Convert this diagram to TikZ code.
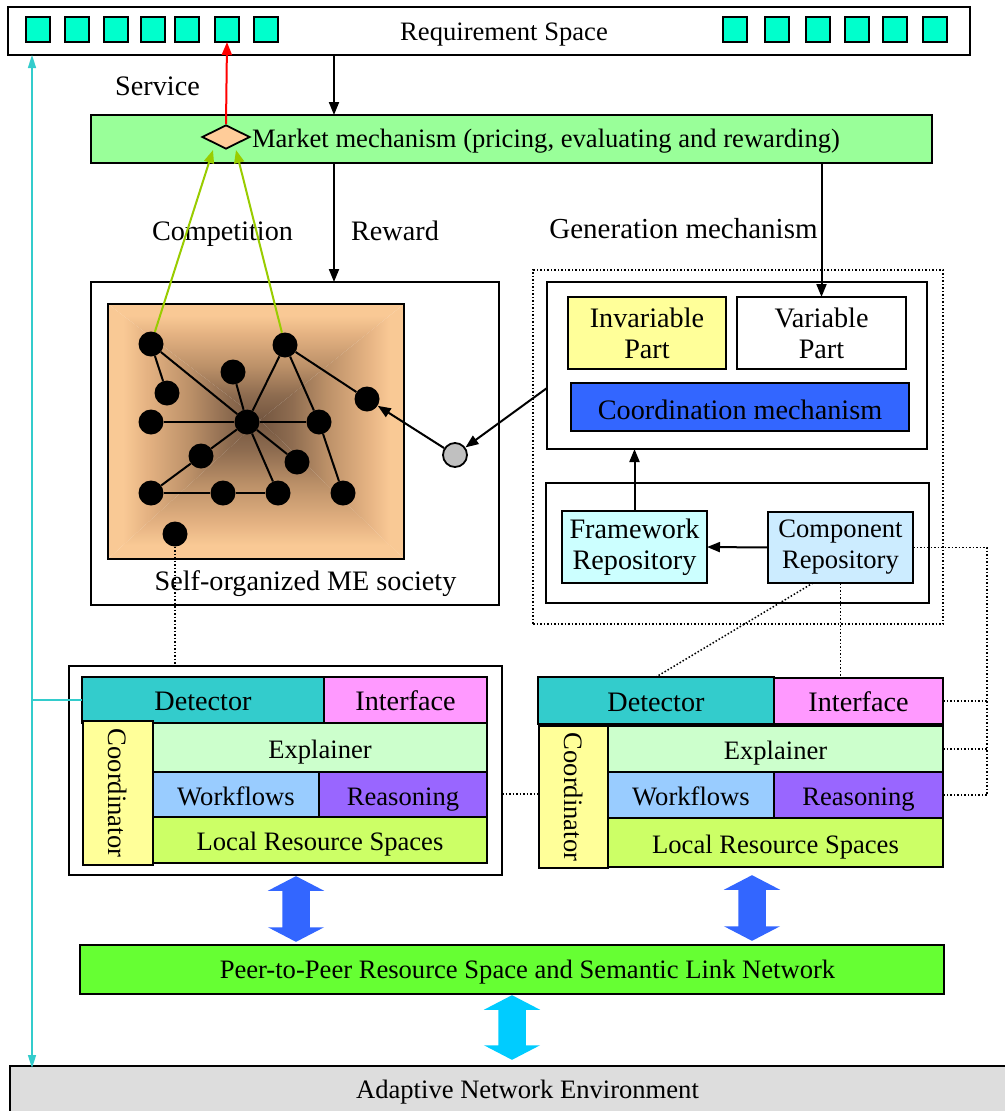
\documentclass[tikz,border=0pt]{standalone}
\usepackage{fontspec}
\setmainfont{Liberation Serif}
\usetikzlibrary{arrows.meta,shapes.geometric,calc}

\definecolor{sqcol}{HTML}{00FFCC}
\definecolor{mktcol}{HTML}{99FF99}
\definecolor{dmcol}{HTML}{FFCC99}
\definecolor{compcol}{HTML}{99CC00}
\definecolor{peach}{HTML}{F9C995}
\definecolor{peachmid}{HTML}{E4B282}
\definecolor{tan}{HTML}{BB9068}
\definecolor{darkmid}{HTML}{8E6C50}
\definecolor{darkbrown}{HTML}{735640}
\definecolor{yelcol}{HTML}{FFFF99}
\definecolor{coordcol}{HTML}{3366FF}
\definecolor{fwcol}{HTML}{CCFFFF}
\definecolor{cpcol}{HTML}{CCECFF}
\definecolor{detcol}{HTML}{33CCCC}
\definecolor{ifcol}{HTML}{FF99FF}
\definecolor{expcol}{HTML}{CCFFCC}
\definecolor{wfcol}{HTML}{99CCFF}
\definecolor{rscol}{HTML}{9966FF}
\definecolor{lrcol}{HTML}{CCFF66}
\definecolor{peercol}{HTML}{66FF33}
\definecolor{netcol}{HTML}{00CCFF}
\definecolor{envcol}{HTML}{DDDDDD}
\definecolor{graycol}{HTML}{C0C0C0}

% shadings of the society backdrop: dark centre fading to peach edges
\pgfdeclareverticalshading{socup}{100bp}{color(0bp)=(darkbrown); color(25bp)=(darkbrown); color(36bp)=(darkmid); color(48bp)=(tan); color(62bp)=(peachmid); color(70bp)=(peach); color(100bp)=(peach)}
\pgfdeclareverticalshading{socdown}{100bp}{color(0bp)=(peach); color(30bp)=(peach); color(38bp)=(peachmid); color(52bp)=(tan); color(64bp)=(darkmid); color(75bp)=(darkbrown); color(100bp)=(darkbrown)}
\pgfdeclarehorizontalshading{socleft}{100bp}{color(0bp)=(peach); color(30bp)=(peach); color(38bp)=(peachmid); color(52bp)=(tan); color(64bp)=(darkmid); color(75bp)=(darkbrown); color(100bp)=(darkbrown)}
\pgfdeclarehorizontalshading{socright}{100bp}{color(0bp)=(darkbrown); color(25bp)=(darkbrown); color(36bp)=(darkmid); color(48bp)=(tan); color(62bp)=(peachmid); color(70bp)=(peach); color(100bp)=(peach)}

\begin{document}
\begin{tikzpicture}[x=1pt,y=-1pt,
  txt/.style={font=\fontsize{26.6}{31}\selectfont},
  big/.style={font=\fontsize{28.2}{31}\selectfont},
  bx/.style={draw, line width=1.8pt, inner sep=0pt, outer sep=0pt, anchor=north west, align=center, txt},
  one/.style={text height=21pt, text depth=0pt},
  sq/.style={draw, line width=1.6pt, fill=sqcol, inner sep=0pt, outer sep=0pt, anchor=north west, minimum width=24pt, minimum height=25pt},
  ball/.style={circle, fill=black, inner sep=0pt, minimum size=25pt},
  lbl/.style={inner sep=0pt, anchor=base, txt},
  conn/.style={line width=2pt, -{Triangle[length=13pt,width=10pt]}},
  edge/.style={line width=2pt},
  dotl/.style={line width=1.5pt, dotted},
  blk/.style={draw, line width=1.5pt},
]
\useasboundingbox (0,0) rectangle (1004,1111);

% ---------- requirement space ----------
\node[bx, minimum width=962pt, minimum height=48pt] (req) at (8,7) {};
\node[lbl] (reqt) at (504,40) {Requirement Space};
\foreach \i/\x in {1/26,2/65,3/104,4/141,5/175,6/215,7/254,8/723,9/765,10/806,11/845,12/883,13/923}
  \node[sq] (q\i) at (\x,17) {};

% ---------- market mechanism ----------
\node[bx, fill=mktcol, minimum width=841pt, minimum height=48pt] (mkt) at (91,115) {};
\node[diamond, draw, line width=1.8pt, fill=dmcol, aspect=2, inner sep=0pt, minimum width=48pt, minimum height=24pt] (dm) at (226,137) {};
\node[lbl] (mktt) at (546,147) {Market mechanism (pricing, evaluating and rewarding)};

\node[lbl, big] (svc) at (157.5,95) {Service};
\node[lbl, big] (cmp) at (222.5,240) {Competition};
\node[lbl, big] (rwd) at (395,240) {Reward};
\node[lbl, font=\fontsize{29}{31}\selectfont] (gent) at (683.5,238) {Generation mechanism};

% ---------- self-organized society ----------
\node[bx, minimum width=408pt, minimum height=323pt] (soc) at (91,282) {};
\coordinate (cc) at (260,420);
\shade[shading=socup] (108,304) -- (404,304) -- (cc) -- cycle;
\shade[shading=socdown] (108,559) -- (404,559) -- (cc) -- cycle;
\shade[shading=socleft] (108,304) -- (108,559) -- (cc) -- cycle;
\shade[shading=socright] (404,304) -- (404,559) -- (cc) -- cycle;
\node[bx, minimum width=296pt, minimum height=255pt] (orng) at (108,304) {};
\node[lbl, big] (soct) at (305.5,590) {Self-organized ME society};

\foreach \n/\x/\y in {1/151/344,2/285/345,3/233/372,4/167/393,5/367/399,6/151/422,7/247/422,8/319/422,9/201/456,10/297/462,11/151/493,12/223/493,13/278/493,14/343/493,15/175/534}
  \node[ball] (n\n) at (\x,\y) {};
\foreach \a/\b in {1/4,1/7,3/7,2/7,2/8,2/5,6/7,7/8,7/9,9/11,11/12,12/13,13/7,7/10,8/14}
  \draw[edge] (n\a) -- (n\b);

\node[circle, draw, line width=1.8pt, fill=graycol, inner sep=0pt, minimum size=24pt] (gc) at (455,455) {};

% ---------- generation mechanism ----------
\node[draw, dotted, line width=1.5pt, inner sep=0pt, outer sep=0pt, anchor=north west, minimum width=410pt, minimum height=354pt] (gen) at (533,270) {};
\node[bx, minimum width=380pt, minimum height=167pt] (gtop) at (547,282) {};
\node[bx, big, fill=yelcol, minimum width=158pt, minimum height=72pt] (inv) at (568,297) {Invariable\\Part};
\node[bx, big, minimum width=169pt, minimum height=72pt] (var) at (737,297) {Variable\\Part};
\node[bx, big, text height=24pt, text depth=0pt, fill=coordcol, minimum width=338pt, minimum height=48pt] (coo) at (571,383) {Coordination mechanism};
\node[bx, minimum width=383pt, minimum height=120pt] (gbot) at (546,483) {};
\node[bx, big, fill=fwcol, minimum width=145pt, minimum height=72pt] (fw) at (562,511) {Framework\\Repository};
\node[bx, fill=cpcol, minimum width=145pt, minimum height=71pt] (cp) at (768,512) {Component\\Repository};

% ---------- left agent ----------
\node[bx, line width=2pt, minimum width=433pt, minimum height=209pt] (agL) at (69,666) {};
\node[bx, big, one, fill=detcol, minimum width=242pt, minimum height=46pt] (detL) at (82,677) {Detector};
\node[bx, big, one, fill=ifcol, minimum width=163pt, minimum height=46pt] (ifL) at (324,677) {Interface};
\node[bx, one, fill=expcol, minimum width=334pt, minimum height=49pt] (expL) at (153,723) {Explainer};
\node[bx, one, fill=wfcol, minimum width=166pt, minimum height=45pt] (wfL) at (153,772) {Workflows};
\node[bx, one, fill=rscol, minimum width=168pt, minimum height=45pt] (rsL) at (319,772) {Reasoning};
\node[bx, one, fill=lrcol, minimum width=334pt, minimum height=46pt] (lrL) at (153,817) {Local Resource Spaces};
\node[bx, fill=yelcol, minimum width=70pt, minimum height=144pt] (coL) at (83,721) {};
\node[inner sep=0pt, txt, rotate=-90] (coLt) at (coL.center) {Coordinator};

% ---------- right agent ----------
\node[bx, big, one, fill=detcol, minimum width=236pt, minimum height=47pt] (detR) at (538,677) {Detector};
\node[bx, big, one, fill=ifcol, minimum width=169pt, minimum height=46pt] (ifR) at (774,678) {Interface};
\node[bx, one, fill=expcol, minimum width=335pt, minimum height=46pt] (expR) at (608,726) {Explainer};
\node[bx, one, fill=wfcol, minimum width=166pt, minimum height=46pt] (wfR) at (608,772) {Workflows};
\node[bx, one, fill=rscol, minimum width=169pt, minimum height=46pt] (rsR) at (774,772) {Reasoning};
\node[bx, one, fill=lrcol, minimum width=335pt, minimum height=49pt] (lrR) at (608,818) {Local Resource Spaces};
\node[bx, fill=yelcol, minimum width=69pt, minimum height=142pt] (coR) at (539,726) {};
\node[inner sep=0pt, txt, rotate=-90] (coRt) at (coR.center) {Coordinator};

% ---------- network layers ----------
\node[bx, fill=peercol, minimum width=864pt, minimum height=49pt] (peer) at (80,945) {};
\node[lbl] (peert) at (527.5,978) {Peer-to-Peer Resource Space and Semantic Link Network};
\node[bx, fill=envcol, minimum width=1000pt, minimum height=50pt] (env) at (10,1066) {};
\node[lbl] (envt) at (527.5,1098) {Adaptive Network Environment};

% double block arrows between layers
\fill[coordcol, blk] (296,877) -- (321,890) -- (309,890) -- (309,928) -- (321,928) -- (296,941) -- (271,928) -- (283,928) -- (283,890) -- (271,890) -- cycle;
\fill[coordcol, blk] (752,876) -- (777,889) -- (765,889) -- (765,927) -- (777,927) -- (752,940) -- (727,927) -- (739,927) -- (739,889) -- (727,889) -- cycle;
\fill[netcol, blk] (512,996) -- (537,1009) -- (525,1009) -- (525,1046) -- (537,1046) -- (512,1059) -- (487,1046) -- (499,1046) -- (499,1009) -- (487,1009) -- cycle;

% ---------- connectors ----------
\coordinate (xa) at (334,0);
\draw[conn] (req.south -| xa) -- (mkt.north -| xa);
\draw[conn] (mkt.south -| xa) -- (soc.north -| xa);
\draw[conn] (mkt.south -| var.north) -- (var.north);
\draw[conn, red] (dm.north) -- (q6.south);
\coordinate (ct1) at (213,150);
\coordinate (ct2) at (236,150);
\draw[conn, compcol] (n1) -- (ct1);
\draw[conn, compcol] (n2) -- (ct2);
\coordinate (gout) at (547,388);
\draw[conn] (gout) -- (gc);
\draw[conn] (gc) -- (n5);
\draw[conn] (fw.north) -- (gtop.south -| fw.north);
\draw[conn] (cp.west) -- (fw.east);

% dotted links
\coordinate (xr) at (987,0);
\coordinate (cpl) at ($(cp.south west)+(45,0)$);
\draw[dotl] (n15.south) -- (agL.north -| n15.south);
\draw[dotl] (cp.east) -| (xr |- rsR.east) -- (rsR.east);
\draw[dotl] (ifR.east) -- (ifR.east -| xr);
\draw[dotl] (expR.east) -- (expR.east -| xr);
\draw[dotl] (cp.south) -- (ifR.north -| cp.south);
\draw[dotl] (cpl) -- (detR.north);
\draw[dotl] (agL.east |- 0,794) -- (coR.west |- 0,794);

% monitoring line on the left
\coordinate (xl) at (32,0);
\draw[line width=1.6pt, detcol, {Triangle[length=13pt,width=8pt]}-{Triangle[length=13pt,width=8pt]}] (req.south -| xl) -- ([yshift=-2pt]env.north -| xl);
\draw[line width=1.6pt, detcol] (detL.west) -- (detL.west -| xl);
\end{tikzpicture}
\end{document}
